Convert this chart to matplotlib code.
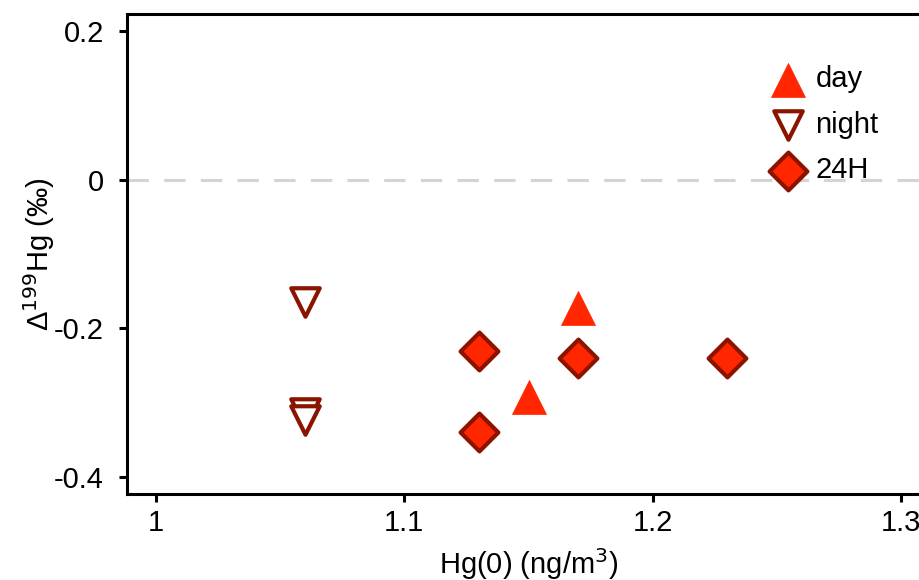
import matplotlib
matplotlib.use("Agg")
import matplotlib.pyplot as plt

plt.rcParams['font.family'] = ['Liberation Sans', 'DejaVu Sans']

day_x = [1.17, 1.15]
day_y = [-0.173, -0.293]
night_x = [1.06, 1.06, 1.06]
night_y = [-0.165, -0.314, -0.324]
h24_x = [1.13, 1.13, 1.17, 1.23]
h24_y = [-0.23, -0.339, -0.24, -0.24]

xticks = [1.0, 1.1, 1.2, 1.3]
xticklabels = ["1", "1.1", "1.2", "1.3"]
yticks = [0.2, 0.0, -0.2, -0.4]
yticklabels = ["0.2", "0", "-0.2", "-0.4"]

fig = plt.figure(figsize=(9.2, 5.8), dpi=100)
ax = fig.add_axes([127/920, 86/580, 804/920, 480/580])

ax.axhline(0, color='#d4d4d4', lw=2.2, dashes=(7, 5), zorder=1)

red = '#ff2600'
dark = '#8b1400'
ax.scatter(day_x, day_y, marker='^', s=600, color=red, edgecolors=red, linewidths=0.5, zorder=3, label='day')
ax.scatter(night_x, night_y, marker='v', s=420, facecolors='white', edgecolors=dark, linewidths=3, zorder=3, label='night')
ax.scatter(h24_x, h24_y, marker='D', s=370, facecolors=red, edgecolors=dark, linewidths=3, zorder=3, label='24H')

ax.set_xlim(0.9883, 1.3121)
ax.set_ylim(-0.4229, 0.2229)
ax.set_xticks(xticks)
ax.set_xticklabels(xticklabels)
ax.set_yticks(yticks)
ax.set_yticklabels(yticklabels)

for s in ax.spines.values():
    s.set_linewidth(2.2)
ax.tick_params(direction='out', length=6, width=2.2, labelsize=21)
ax.tick_params(axis='x', pad=5)
ax.tick_params(axis='y', pad=10.5)

ax.set_xlabel("Hg(0) (ng/m$^3$)", fontsize=21, labelpad=6)
ax.set_ylabel("Δ$^{199}$Hg (‰)", fontsize=21, labelpad=-2)

leg = ax.legend(loc='upper left', bbox_to_anchor=(0.80, 0.893), frameon=False, fontsize=21,
                handlelength=1.2, handletextpad=0.35, labelspacing=0.6, borderaxespad=0, borderpad=0)

fig.savefig("out.png", dpi=100)
